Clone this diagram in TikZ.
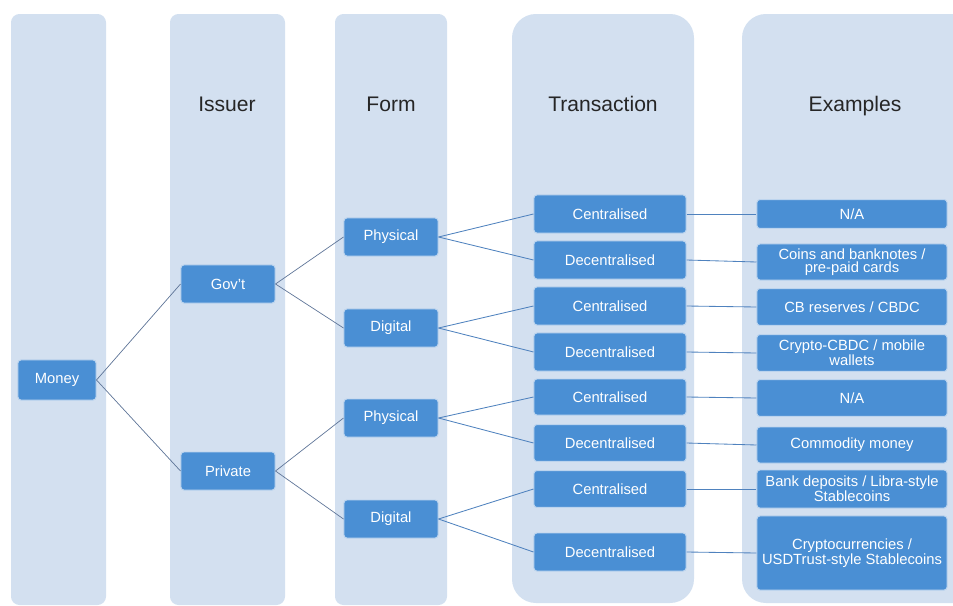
\documentclass[tikz,border=0pt]{standalone}
\usepackage{fontspec}
\setmainfont{Liberation Sans}
\usepackage{tikz}

\definecolor{lanebg}{HTML}{D3E0F0}
\definecolor{boxblue}{HTML}{4A8FD4}
\definecolor{boxedge}{HTML}{BCD4EE}
\definecolor{linkblue}{HTML}{4F82BE}
\definecolor{linkgrey}{HTML}{5F7598}

\begin{document}
\begin{tikzpicture}[x=0.025cm, y=-0.025cm,
   box/.style={rectangle, rounded corners=2pt, fill=boxblue, draw=boxedge, line width=0.7pt,
               text=white, align=center, inner sep=1pt, minimum height=0.95cm,
               font=\fontsize{10.5}{9.6}\selectfont},
   head/.style={anchor=base, text=black!85, font=\fontsize{15}{18}\selectfont},
   link/.style={draw=linkblue, line width=0.6pt},
   stem/.style={draw=linkgrey, line width=0.5pt}]
   \useasboundingbox (0,0) rectangle (953,605);

   % lanes
   \fill[lanebg, rounded corners=6pt] (11,14) rectangle (106,605);
   \fill[lanebg, rounded corners=6pt] (170,14) rectangle (285,605);
   \fill[lanebg, rounded corners=6pt] (335,14) rectangle (447,605);
   \fill[lanebg, rounded corners=17pt] (512,14) rectangle (694,603);
   \fill[lanebg, rounded corners=17pt] (742,14) rectangle (990,603);

   \node[head] (hissuer) at (227,111) {Issuer};
   \node[head] (hform) at (391,111) {Form};
   \node[head] (htrans) at (603,111) {Transaction};
   \node[head] (hex) at (855,111) {Examples};

   % issuer and form
   \node[box, minimum width=1.95cm, minimum height=1cm] (money) at (57,380) {Money};
   \node[box, minimum width=2.35cm] (gov) at (228,284) {Gov't};
   \node[box, minimum width=2.35cm] (priv) at (228,471) {Private};
   \node[box, minimum width=2.35cm] (phys1) at (391,237) {Physical};
   \node[box, minimum width=2.35cm] (dig1) at (391,328) {Digital};
   \node[box, minimum width=2.35cm] (phys2) at (391,418) {Physical};
   \node[box, minimum width=2.35cm] (dig2) at (391,519) {Digital};

   % transaction
   \node[box, minimum width=3.8cm] (cen1) at (610,214) {Centralised};
   \node[box, minimum width=3.8cm] (dec1) at (610,260) {Decentralised};
   \node[box, minimum width=3.8cm] (cen2) at (610,306) {Centralised};
   \node[box, minimum width=3.8cm] (dec2) at (610,352) {Decentralised};
   \node[box, minimum width=3.8cm, minimum height=0.9cm] (cen3) at (610,397) {Centralised};
   \node[box, minimum width=3.8cm, minimum height=0.92cm] (dec3) at (610,443) {Decentralised};
   \node[box, minimum width=3.8cm, minimum height=0.92cm] (cen4) at (610,489) {Centralised};
   \node[box, minimum width=3.8cm] (dec4) at (610,552) {Decentralised};

   % examples
   \node[box, minimum width=4.75cm, minimum height=0.72cm] (ex1) at (852,214) {N/A};
   \node[box, minimum width=4.75cm, minimum height=0.9cm] (ex2) at (852,262) {Coins and banknotes /\\pre-paid cards};
   \node[box, minimum width=4.75cm, minimum height=0.92cm] (ex3) at (852,307) {CB reserves / CBDC};
   \node[box, minimum width=4.75cm, minimum height=0.92cm] (ex4) at (852,353) {Crypto-CBDC / mobile\\wallets};
   \node[box, minimum width=4.75cm, minimum height=0.92cm] (ex5) at (852,398) {N/A};
   \node[box, minimum width=4.75cm, minimum height=0.9cm] (ex6) at (852,445) {Commodity money};
   \node[box, minimum width=4.75cm, minimum height=0.95cm] (ex7) at (852,489) {Bank deposits / Libra-style\\Stablecoins};
   \node[box, minimum width=4.75cm, minimum height=1.85cm] (ex8) at (852,553) {Cryptocurrencies /\\USDTrust-style Stablecoins};

   \draw[stem] (money.east) -- (gov.west);
   \draw[stem] (money.east) -- (priv.west);
   \draw[stem] (gov.east) -- (phys1.west);
   \draw[stem] (gov.east) -- (dig1.west);
   \draw[stem] (priv.east) -- (phys2.west);
   \draw[stem] (priv.east) -- (dig2.west);

   \draw[link] (phys1.east) -- (cen1.west);
   \draw[link] (phys1.east) -- (dec1.west);
   \draw[link] (dig1.east) -- (cen2.west);
   \draw[link] (dig1.east) -- (dec2.west);
   \draw[link] (phys2.east) -- (cen3.west);
   \draw[link] (phys2.east) -- (dec3.west);
   \draw[link] (dig2.east) -- (cen4.west);
   \draw[link] (dig2.east) -- (dec4.west);

   \draw[link] (cen1.east) -- (ex1.west);
   \draw[link] (dec1.east) -- (ex2.west);
   \draw[link] (cen2.east) -- (ex3.west);
   \draw[link] (dec2.east) -- (ex4.west);
   \draw[link] (cen3.east) -- (ex5.west);
   \draw[link] (dec3.east) -- (ex6.west);
   \draw[link] (cen4.east) -- (ex7.west);
   \draw[link] (dec4.east) -- (ex8.west);
\end{tikzpicture}
\end{document}
